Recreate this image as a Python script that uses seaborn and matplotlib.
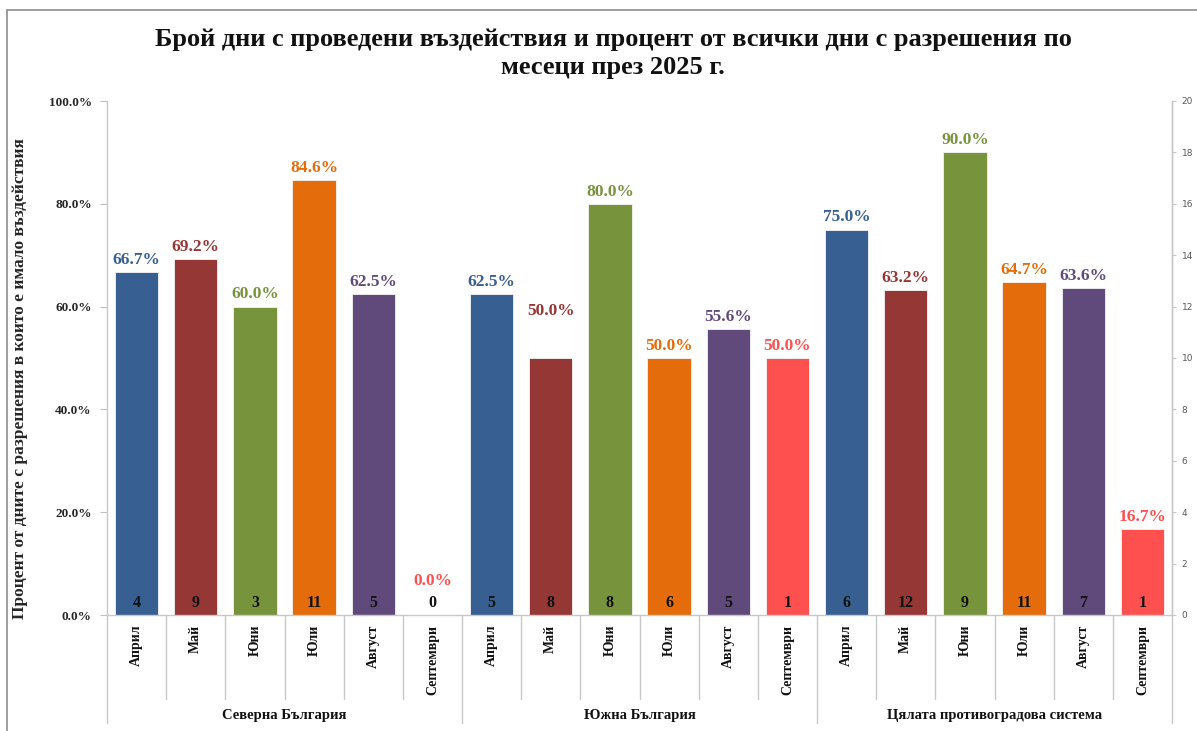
import matplotlib
matplotlib.use("Agg")
import matplotlib.pyplot as plt
from matplotlib.lines import Line2D
import matplotlib.transforms as mtransforms
import seaborn as sns
import pandas as pd

# --- data -------------------------------------------------------------
groups = ["Северна България", "Южна България", "Цялата противоградова система"]
months = ["Април", "Май", "Юни", "Юли", "Август", "Септември"]

pct_north = [66.7, 69.2, 60.0, 84.6, 62.5, 0.0]
pct_south = [62.5, 50.0, 80.0, 50.0, 55.6, 50.0]
pct_total = [75.0, 63.2, 90.0, 64.7, 63.6, 16.7]

days_north = [4, 9, 3, 11, 5, 0]
days_south = [5, 8, 8, 6, 5, 1]
days_total = [6, 12, 9, 11, 7, 1]

title = "Брой дни с проведени въздействия и процент от всички дни с разрешения по\nмесеци през 2025 г."
ylabel = "Процент от дните с разрешения в които е имало въздействия"

month_colors = ["#375F91", "#953735", "#77933C", "#E46C0A", "#604A7B", "#FF5050"]

# --- table ------------------------------------------------------------
rows = []
for g, pcts, days in zip(groups, [pct_north, pct_south, pct_total],
                         [days_north, days_south, days_total]):
    for m, p, d, c in zip(months, pcts, days, month_colors):
        rows.append({"key": f"{g}|{m}", "group": g, "month": m,
                     "pct": p, "days": d, "color": c})
df = pd.DataFrame(rows)
order = list(df["key"])
palette = dict(zip(df["key"], df["color"]))

# --- figure -----------------------------------------------------------
sns.set_style("white")
plt.rcParams["font.family"] = ["Liberation Serif", "DejaVu Serif"]

W, H = 1197, 731
fig = plt.figure(figsize=(W / 100, H / 100), dpi=100)
ax = fig.add_axes([107 / W, 1 - 615 / H, (1172 - 107) / W, (615 - 101) / H])

sns.barplot(data=df, x="key", y="pct", hue="key", palette=palette,
            order=order, hue_order=order, legend=False, width=0.73,
            saturation=1, ax=ax, edgecolor="#f4f4f4", linewidth=0.6)

ax.set_xlim(-0.5, len(order) - 0.5)
ax.set_ylim(0, 100)
ax.set_yticks(range(0, 101, 20))
ax.set_yticklabels([f"{v:.1f}%" for v in range(0, 101, 20)],
                   fontsize=9.5, fontweight="bold", color="#262626")
ax.set_xticks(range(len(order)))
ax.set_xticklabels(df["month"], rotation=90, fontsize=10, fontweight="bold",
                   va="top", color="#111111")
ax.tick_params(axis="x", length=0, pad=7)
ax.tick_params(axis="y", length=5, width=0.8, color="#bfbfbf", pad=6,
               direction="out", left=True)
ax.set_xlabel("")
ax.set_ylabel(ylabel, fontsize=12.5, fontweight="bold")
ax.yaxis.set_label_coords(-0.074, 0.46)

ax.spines["top"].set_visible(False)
for side in ["left", "bottom", "right"]:
    ax.spines[side].set_color("#c8c8c8")
    ax.spines[side].set_linewidth(1.0)

# secondary axis for day counts
ax2 = ax.twinx()
ax2.set_ylim(0, 20)
ax2.set_yticks(range(0, 21, 2))
ax2.tick_params(axis="y", labelsize=6.5, labelcolor="#595959", length=3,
                color="#c8c8c8", pad=4, right=True)
for t in ax2.get_yticklabels():
    t.set_family("DejaVu Sans")
for side in ["top", "left", "bottom"]:
    ax2.spines[side].set_visible(False)
ax2.spines["right"].set_color("#c8c8c8")
ax2.spines["right"].set_linewidth(1.0)

# value labels
label_lift = {5: 16, 7: 25}
for i, r in df.iterrows():
    ax.annotate(f"{r['pct']:.1f}%", xy=(i, r["pct"]),
                xytext=(0, 3 + label_lift.get(i, 0)), textcoords="offset points",
                ha="center", va="bottom", fontsize=12.5, fontweight="bold",
                color=r["color"])
    ax.annotate(f"{r['days']}", xy=(i, 0), xytext=(0, 3),
                textcoords="offset points", ha="center", va="bottom",
                fontsize=11.5, fontweight="bold", color="#111111")

# category separators under the axis
trans = mtransforms.blended_transform_factory(ax.transData, ax.transAxes)
n_m = len(months)
for k in range(len(order) + 1):
    depth = -(723 - 615) / 514 if k % n_m == 0 else -(699 - 615) / 514
    ax.add_line(Line2D([k - 0.5, k - 0.5], [0, depth], transform=trans,
                       color="#c8c8c8", lw=1.0, clip_on=False))

# group names
for gi, g in enumerate(groups):
    ax.text(gi * n_m + (n_m - 1) / 2, -(716 - 615) / 514, g, transform=trans,
            ha="center", va="center", fontsize=10.5, fontweight="bold",
            color="#111111")

# title
fig.text(613 / W, 1 - 28 / H, title, ha="center", va="top", fontsize=19,
         fontweight="bold", linespacing=1.3, color="#111111")

# chart frame
fig.add_artist(Line2D([7 / W, 7 / W], [0, 1 - 10 / H], transform=fig.transFigure,
                      color="#8c8c8c", lw=1.2))
fig.add_artist(Line2D([7 / W, 1], [1 - 10 / H, 1 - 10 / H], transform=fig.transFigure,
                      color="#8c8c8c", lw=1.2))

fig.savefig("out.png", dpi=100, facecolor="white")
